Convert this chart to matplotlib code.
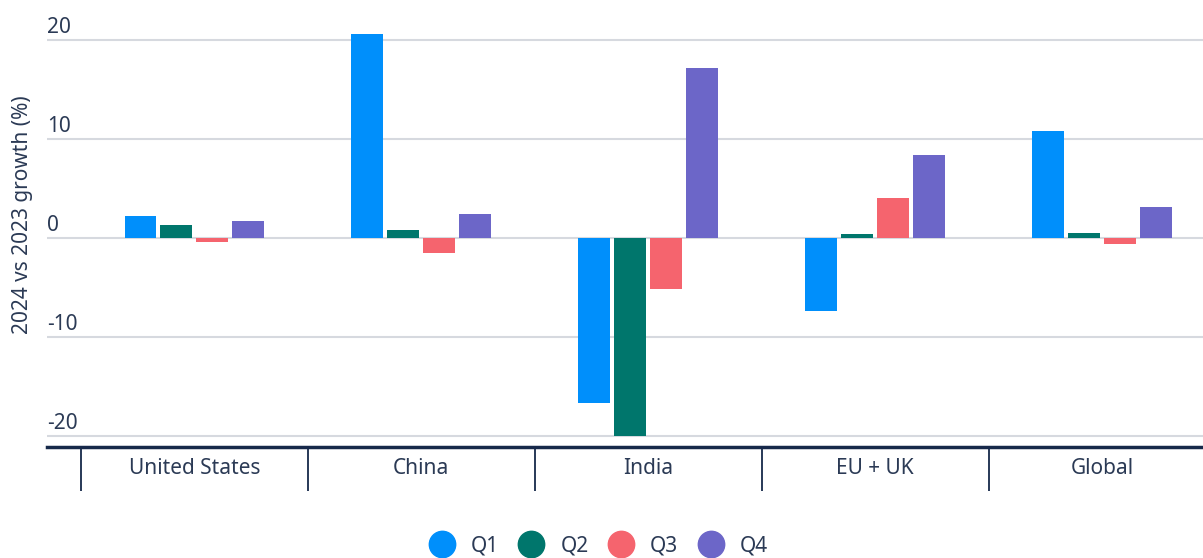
import numpy as np
import matplotlib
matplotlib.use("Agg")
import matplotlib.pyplot as plt
from matplotlib.lines import Line2D
from matplotlib.transforms import blended_transform_factory

plt.rcParams["font.family"] = ["Noto Sans", "DejaVu Sans"]
plt.rcParams["savefig.bbox"] = "standard"

# Data
REGIONS = ["United States", "China", "India", "EU + UK", "Global"]
QUARTERS = ["Q1", "Q2", "Q3", "Q4"]
Q1 = [2.2, 20.6, -16.7, -7.4, 10.8]
Q2 = [1.3, 0.8, -20.0, 0.4, 0.5]
Q3 = [-0.4, -1.5, -5.1, 4.0, -0.6]
Q4 = [1.7, 2.4, 17.2, 8.4, 3.1]
Y_TICKS = [-20, -10, 0, 10, 20]

COLORS = ["#008FFB", "#00766C", "#F5646E", "#6C66C8"]
TEXT = "#2B3A55"
AXIS = "#16294A"
GRID = "#D6D9DF"
FS = 15


def main():
    fig = plt.figure(figsize=(12.03, 5.58), dpi=100)
    ax = fig.add_axes([47 / 1203, 1 - 447 / 558, 1 - 47 / 1203, 447 / 558])

    x = np.arange(len(REGIONS))
    width = 0.141
    step = 0.1586
    for i, (vals, col) in enumerate(zip([Q1, Q2, Q3, Q4], COLORS)):
        ax.bar(x + (i - 1.5) * step, vals, width=width, color=col,
               zorder=3, label=QUARTERS[i])

    # category labels centred, group dividers as long minor ticks
    ax.set_xticks(x)
    ax.set_xticklabels(REGIONS, fontsize=FS, color=TEXT)
    ax.tick_params(axis="x", which="major", length=0, pad=8)
    ax.set_xticks(np.arange(len(REGIONS) + 1) - 0.5, minor=True)
    ax.tick_params(axis="x", which="minor", length=32, width=1.3, color=AXIS)

    # gridlines + labels sitting above them
    ax.set_yticks(Y_TICKS)
    ax.yaxis.grid(True, color=GRID, linewidth=1.5, zorder=0)
    ax.tick_params(axis="y", length=0, labelleft=False)

    # limits last: set_xticks would widen them otherwise
    ax.set_xlim(-0.65, 4.445)
    ax.set_ylim(-21.1, 24.04)

    trans = blended_transform_factory(ax.transAxes, ax.transData)
    for t in Y_TICKS:
        ax.text(0.0, t + 0.7, f"{t}", transform=trans, ha="left", va="baseline",
                fontsize=FS, color=TEXT)

    ax.set_ylabel("2024 vs 2023 growth (%)", fontsize=FS, color=TEXT)
    ax.yaxis.set_label_coords(-0.012, 0.52)

    for s in ["top", "right", "left"]:
        ax.spines[s].set_visible(False)
    ax.spines["bottom"].set_color(AXIS)
    ax.spines["bottom"].set_linewidth(2.5)

    handles = [Line2D([], [], linestyle="none", marker="o", markersize=19,
                      markerfacecolor=c, markeredgecolor=c) for c in COLORS]
    fig.legend(handles, QUARTERS, loc="center", bbox_to_anchor=(0.497, 0.021),
               ncol=4, frameon=False, fontsize=FS, labelcolor=TEXT,
               handletextpad=0.75, columnspacing=0.9, handlelength=1.3)

    fig.savefig("out.png", dpi=100, facecolor="white", bbox_inches=None)


if __name__ == "__main__":
    main()
